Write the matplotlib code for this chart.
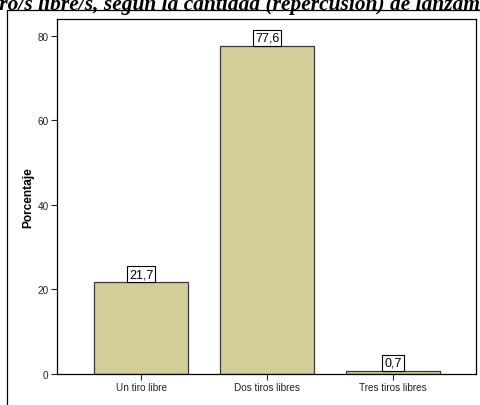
import matplotlib.pyplot as plt
from matplotlib.patches import Rectangle

categorias = ['Un tiro libre', 'Dos tiros libres', 'Tres tiros libres']
porcentajes = [21.7, 77.6, 0.7]
etiquetas = ['21,7', '77,6', '0,7']
titulo = 'Tiro/s libre/s, según la cantidad (repercusión) de lanzamientos'

fig = plt.figure(figsize=(4.8, 4.06), dpi=100)
ax = fig.add_axes([57 / 480, 31 / 406, 419 / 480, 355 / 406])

x = range(len(categorias))
barras = ax.bar(x, porcentajes, width=0.746, color='#d3ce98', edgecolor='#3a3a3a', linewidth=0.9)

# etiquetas de valor encima de cada barra
for b, txt in zip(barras, etiquetas):
    ax.annotate(txt, (b.get_x() + b.get_width() / 2, b.get_height()),
                xytext=(0, 1.6), textcoords='offset points', ha='center', va='bottom',
                fontsize=9, family='Liberation Sans',
                bbox=dict(boxstyle='square,pad=0.15', fc='white', ec='black', lw=0.8))

ax.set_xlim(-0.67, 2.66)
ax.set_ylim(0, 84)
ax.set_xticks(list(x))
ax.set_xticklabels(categorias, fontsize=7.2, family='Liberation Sans', color='#222222')
ax.set_yticks([0, 20, 40, 60, 80])
ax.set_yticklabels(['0', '20', '40', '60', '80'], fontsize=7.2, family='Liberation Sans', color='#222222')
ax.tick_params(direction='out', length=4, width=0.8, pad=2, color='#222222')
ax.set_ylabel('Porcentaje', fontsize=8.6, fontweight='bold', family='Liberation Sans', labelpad=2)
for s in ax.spines.values():
    s.set_linewidth(0.9)

# marco exterior
fig.patches.append(Rectangle((6.5 / 480, -0.1), 1.2, 1.1 - 10.5 / 406,
                             transform=fig.transFigure, fill=False, ec='black', lw=0.9))

# titulo recortado por los bordes de la figura
kw = dict(fontsize=15.4, fontweight='bold', fontstyle='italic', family='Liberation Serif')
r = fig.canvas.get_renderer()
pref = fig.text(0, 0, 'Ti', **kw)
w_pref = pref.get_window_extent(r).width
pref.remove()
fig.text((-w_pref - 1) / 480, 1 - 10 / 406, titulo, ha='left', va='baseline', **kw)

fig.savefig('out.png', dpi=100)
